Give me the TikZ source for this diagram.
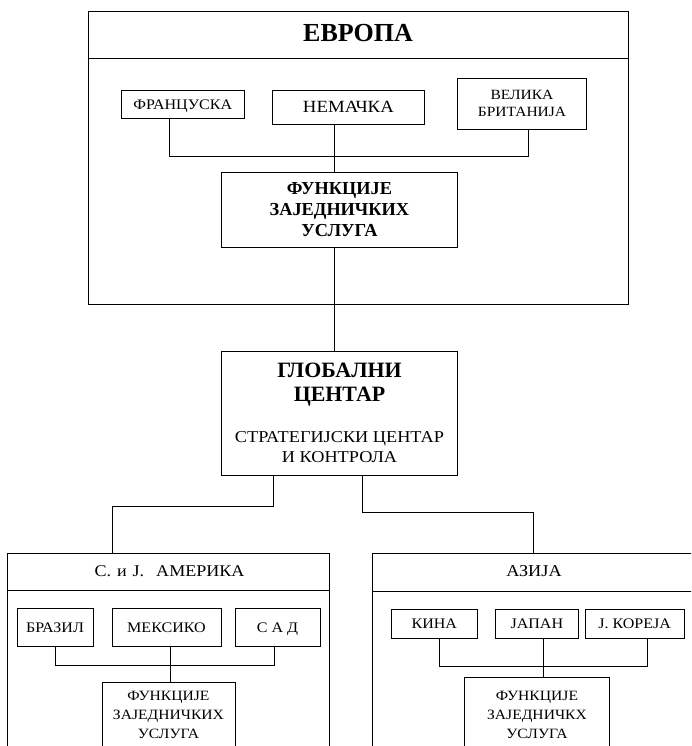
\documentclass[tikz,border=0pt]{standalone}
\usepackage{fontspec}
\setmainfont{Liberation Serif}
\newfontfamily\widefont[FakeStretch=1.1]{Liberation Serif}
\begin{document}
\begin{tikzpicture}[x=1pt,y=-1pt,
  frame/.style={draw, line width=0.8pt, inner sep=0pt, align=center},
  wire/.style={line width=0.8pt},
  lbl/.style={inner sep=0pt, anchor=base},
  small/.style={font=\widefont\fontsize{14.6}{17}\selectfont, text height=9.7pt, text depth=0pt}]
\useasboundingbox (0,0) rectangle (691,746);
\clip (0,0) rectangle (691,746);

% ---------------- Europe ----------------
\node[frame, minimum width=540, minimum height=293] (eu) at (358,157.5) {};
\node[lbl, font=\fontsize{26}{30}\selectfont\bfseries] (eut) at (358,42) {ЕВРОПА};
\draw[wire] (eu.west |- 0,58) -- (eu.east |- 0,58);

\node[frame, small, minimum width=123.6, minimum height=28.7] (fr) at (182.8,104.35) {ФРАНЦУСКА};
\node[frame, minimum width=151.2, minimum height=34, text height=11.3pt, text depth=0pt,
      font=\widefont\fontsize{17.1}{21}\selectfont] (de) at (348.4,107) {НЕМАЧКА};
\node[frame, minimum width=129.4, minimum height=51, text height=26.3pt, text depth=0pt,
      font=\widefont\fontsize{14.1}{17}\selectfont] (gb) at (522,103.8) {ВЕЛИКА\\БРИТАНИЈА};
\node[frame, minimum width=236.8, minimum height=75, text height=54.1pt, text depth=0pt,
      font=\fontsize{18.3}{21}\selectfont\bfseries] (efn) at (339.4,209.5) {ФУНКЦИЈЕ\\ЗАЈЕДНИЧКИХ\\УСЛУГА};

\draw[wire] (fr.south -| 169,0) -- (169,156.5) -- (528.3,156.5) -- (gb.south -| 528.3,0);
\draw[wire] (de.south -| 334.5,0) -- (efn.north -| 334.5,0);

% ---------------- Global centre ----------------
\node[frame, minimum width=236.3, minimum height=123.3] (gc) at (339.15,413.35) {};
\node[lbl, font=\fontsize{21.9}{24}\selectfont\bfseries] (gc1) at (339.5,377) {ГЛОБАЛНИ};
\node[lbl, font=\fontsize{21.9}{24}\selectfont\bfseries] (gc2) at (339.5,401) {ЦЕНТАР};
\node[lbl, font=\widefont\fontsize{16.6}{20}\selectfont] (gc3) at (339.5,442) {СТРАТЕГИЈСКИ ЦЕНТАР};
\node[lbl, font=\widefont\fontsize{16.6}{20}\selectfont] (gc4) at (339.5,462) {И КОНТРОЛА};

\draw[wire] (efn.south -| 334.5,0) -- (gc.north -| 334.5,0);

% ---------------- Americas ----------------
\node[frame, minimum width=322, minimum height=246.7] (am) at (168.3,676.65) {};
\node[lbl, font=\widefont\fontsize{16.4}{19}\selectfont] (amt) at (169.5,576)
  {С.\hspace{6pt}и\hspace{6pt}Ј.\hspace{12pt}АМЕРИКА};
\draw[wire] (am.west |- 0,590) -- (am.east |- 0,590);

\node[frame, small, minimum width=76, minimum height=38.7] (br) at (55,627.35) {БРАЗИЛ};
\node[frame, small, minimum width=109, minimum height=38.7] (mx) at (166.5,627.35) {МЕКСИКО};
\node[frame, small, minimum width=85, minimum height=38.7] (us) at (277.5,627.35) {С А Д};
\node[frame, minimum width=132.7, minimum height=118] (afn) at (168.65,741) {};
\node[inner sep=0pt, anchor=north, align=center, text height=47.4pt, text depth=0pt,
      font=\widefont\fontsize{14.2}{19}\selectfont] (afnt) at (168.5,690.6)
  {ФУНКЦИЈЕ\\ЗАЈЕДНИЧКИХ\\УСЛУГА};

\draw[wire] (br.south -| 55,0) -- (55,665) -- (274,665) -- (us.south -| 274,0);
\draw[wire] (mx.south -| 170,0) -- (afn.north -| 170,0);

% ---------------- Asia ----------------
\node[frame, minimum width=322.3, minimum height=246.7] (as) at (533.85,676.65) {};
\node[lbl, font=\widefont\fontsize{16.6}{19}\selectfont] (ast) at (534,576) {АЗИЈА};
\draw[wire] (as.west |- 0,591) -- (as.east |- 0,591);

\node[frame, small, minimum width=86.7, minimum height=29] (cn) at (434.3,623.8) {КИНА};
\node[frame, small, minimum width=82.3, minimum height=29] (jp) at (536.85,623.8) {ЈАПАН};
\node[frame, small, minimum width=99.3, minimum height=29] (kr) at (634.65,623.8) {Ј. КОРЕЈА};
\node[frame, minimum width=145.3, minimum height=122.7] (sfn) at (536.65,738.65) {};
\node[inner sep=0pt, anchor=north, align=center, text height=47.4pt, text depth=0pt,
      font=\widefont\fontsize{14.2}{19}\selectfont] (sfnt) at (537,690.6)
  {ФУНКЦИЈЕ\\ЗАЈЕДНИЧКХ\\УСЛУГА};

\draw[wire] (cn.south -| 439,0) -- (439,666) -- (647.7,666) -- (kr.south -| 647.7,0);
\draw[wire] (jp.south -| 543,0) -- (sfn.north -| 543,0);

% ---------------- links from the global centre ----------------
\draw[wire] (gc.south -| 273,0) -- (273,506) -- (112,506) -- (am.north -| 112,0);
\draw[wire] (gc.south -| 362.5,0) -- (362.5,512) -- (533,512) -- (as.north -| 533,0);
\end{tikzpicture}
\end{document}
